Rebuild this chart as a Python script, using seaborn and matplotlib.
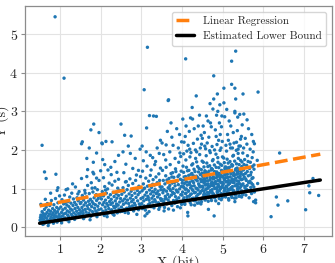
import matplotlib
matplotlib.use("Agg")
import matplotlib.pyplot as plt
import seaborn as sns
import pandas as pd

# points, grouped by x band
pts_a = [(0.51,0.18),(0.52,0.25),(0.53,0.31),(0.54,0.12),(0.55,0.22),(0.56,0.40),(0.57,0.15),(0.58,0.28),
         (0.59,0.35),(0.60,0.20),(0.61,0.09),(0.62,0.46),(0.63,0.27),(0.64,0.33),(0.65,0.14),(0.66,0.52),
         (0.67,0.23),(0.68,0.38),(0.69,0.61),(0.70,0.17),(0.71,0.29),(0.72,0.44),(0.73,0.11),(0.74,0.34),
         (0.75,0.56),(0.76,0.21),(0.77,0.41),(0.78,0.26),(0.79,0.69),(0.80,0.32),(0.81,0.16),(0.82,0.48),
         (0.83,0.37),(0.84,0.24),(0.85,0.58),(0.86,0.30),(0.87,0.43),(0.88,0.19),(0.89,0.74),(0.90,0.36),
         (0.91,0.27),(0.92,0.51),(0.93,0.13),(0.94,0.40),(0.95,0.63),(0.96,0.22),(0.97,0.47),(0.98,0.33),
         (0.99,0.81),(0.53,0.59),(0.58,0.07),(0.64,0.72),(0.71,0.04),(0.77,0.88),(0.84,0.10),(0.93,0.95),
         (0.97,0.28),(0.56,2.12),(0.62,1.43),(0.66,1.26),(0.90,1.37),(0.88,5.45),(1.10,3.86),(0.95,1.02)]

pts_b = [(1.01,0.26),(1.02,0.52),(1.03,0.17),(1.04,0.38),(1.05,0.71),(1.06,0.29),(1.07,0.45),(1.08,0.21),
         (1.09,0.60),(1.10,0.34),(1.11,0.83),(1.12,0.24),(1.13,0.49),(1.14,0.36),(1.15,0.97),(1.16,0.19),
         (1.17,0.57),(1.18,0.42),(1.19,0.31),(1.20,0.66),(1.21,0.27),(1.22,0.53),(1.23,0.39),(1.24,0.78),
         (1.25,0.22),(1.26,0.47),(1.27,0.62),(1.28,0.33),(1.29,0.88),(1.30,0.44),(1.31,0.28),(1.32,0.56),
         (1.33,0.73),(1.34,0.37),(1.35,0.25),(1.36,0.64),(1.37,0.48),(1.38,1.04),(1.39,0.32),(1.40,0.58),
         (1.41,0.41),(1.42,0.76),(1.43,0.26),(1.44,0.51),(1.45,0.68),(1.46,0.35),(1.47,0.92),(1.48,0.45),
         (1.49,0.30),(1.50,0.61),(1.04,0.11),(1.13,0.63),(1.22,0.14),(1.31,1.12),(1.36,0.20),(1.44,0.86),
         (1.19,0.99)]

pts_c = [(1.51,0.38),(1.52,0.64),(1.53,0.29),(1.54,0.51),(1.55,0.82),(1.56,0.43),(1.57,0.35),(1.58,0.70),
         (1.59,0.57),(1.60,0.26),(1.61,0.95),(1.62,0.46),(1.63,0.63),(1.64,0.39),(1.65,0.78),(1.66,0.31),
         (1.67,0.55),(1.68,1.08),(1.69,0.48),(1.70,0.67),(1.71,0.36),(1.72,0.87),(1.73,0.59),(1.74,0.44),
         (1.75,0.72),(1.76,0.28),(1.77,1.15),(1.78,0.53),(1.79,0.66),(1.80,0.40),(1.81,0.91),(1.82,0.61),
         (1.83,0.34),(1.84,0.76),(1.85,0.49),(1.86,1.02),(1.87,0.58),(1.88,0.42),(1.89,0.84),(1.90,0.69),
         (1.91,0.37),(1.92,0.97),(1.93,0.54),(1.94,0.74),(1.95,0.45),(1.96,1.21),(1.97,0.62),(1.98,0.33),
         (1.99,0.80),(1.58,0.22),(1.66,1.31),(1.74,0.19),(1.83,1.38),(1.91,0.27),(1.62,0.88),(1.79,1.01),
         (1.83,2.67),(1.76,2.52),(1.96,2.45),(1.55,2.21),(1.53,2.16),(1.72,2.05),(2.04,2.16),(1.90,1.92),
         (1.66,1.78),(1.82,1.68),(1.68,1.49),(1.81,1.42),(2.00,1.46),(1.53,1.26),(1.90,1.27)]

pts_d = [(2.01,0.47),(2.02,0.73),(2.03,0.36),(2.04,0.92),(2.05,0.58),(2.06,0.41),(2.07,0.81),(2.08,0.64),
         (2.09,0.30),(2.10,1.05),(2.11,0.52),(2.12,0.70),(2.13,0.44),(2.14,0.88),(2.15,0.61),(2.16,0.35),
         (2.17,0.99),(2.18,0.56),(2.19,0.77),(2.20,0.48),(2.21,1.14),(2.22,0.66),(2.23,0.39),(2.24,0.84),
         (2.25,0.59),(2.26,0.72),(2.27,0.45),(2.28,1.09),(2.29,0.63),(2.30,0.34),(2.31,0.90),(2.32,0.54),
         (2.33,0.79),(2.34,0.50),(2.35,1.19),(2.36,0.68),(2.37,0.42),(2.38,0.86),(2.39,0.60),(2.40,0.75),
         (2.41,0.37),(2.42,1.01),(2.43,0.57),(2.44,0.82),(2.45,0.47),(2.46,0.95),(2.47,0.65),(2.48,0.40),
         (2.49,0.74),(2.07,1.28),(2.16,0.27),(2.26,1.36),(2.33,0.31),(2.44,1.24),(2.12,0.96),(2.38,0.53),
         (2.03,2.18),(2.13,2.22),(2.28,2.21),(2.44,1.86),(2.50,2.67),(2.59,2.38),(2.10,1.62),(2.25,1.55),
         (2.35,1.70),(2.18,1.48),(2.40,1.42),(2.05,1.75)]

pts_e = [(2.51,0.52),(2.52,0.85),(2.53,0.41),(2.54,0.68),(2.55,1.02),(2.56,0.59),(2.57,0.46),(2.58,0.91),
         (2.59,0.73),(2.60,0.38),(2.61,1.17),(2.62,0.63),(2.63,0.80),(2.64,0.49),(2.65,0.97),(2.66,0.70),
         (2.67,0.44),(2.68,1.08),(2.69,0.61),(2.70,0.86),(2.71,0.53),(2.72,1.25),(2.73,0.75),(2.74,0.47),
         (2.75,0.93),(2.76,0.66),(2.77,0.82),(2.78,0.55),(2.79,1.13),(2.80,0.71),(2.81,0.42),(2.82,0.99),
         (2.83,0.62),(2.84,0.88),(2.85,0.57),(2.86,1.21),(2.87,0.77),(2.88,0.50),(2.89,0.33),(2.90,0.95),
         (2.91,0.68),(2.92,0.84),(2.93,0.45),(2.94,1.06),(2.95,0.60),(2.96,0.90),(2.97,0.54),(2.98,1.31),
         (2.99,0.74),(2.57,1.41),(2.68,0.36),(2.79,1.52),(2.88,1.35),(2.63,1.18),(2.93,1.47),
         (2.75,2.36),(2.73,1.91),(2.62,1.63),(2.85,1.78),(2.97,2.02),(2.55,1.95),(2.68,2.10)]

pts_f = [(3.01,0.61),(3.02,0.94),(3.03,0.48),(3.04,0.77),(3.05,1.12),(3.06,0.68),(3.07,0.55),(3.08,1.01),
         (3.09,0.83),(3.10,0.44),(3.11,1.27),(3.12,0.72),(3.13,0.90),(3.14,0.35),(3.15,1.06),(3.16,0.80),
         (3.17,0.58),(3.18,1.19),(3.19,0.70),(3.20,0.96),(3.21,0.62),(3.22,1.34),(3.23,0.86),(3.24,0.53),
         (3.25,1.03),(3.26,0.75),(3.27,0.92),(3.28,0.65),(3.29,1.23),(3.30,0.81),(3.31,0.50),(3.32,1.09),
         (3.33,0.71),(3.34,0.98),(3.35,0.66),(3.36,1.30),(3.37,0.87),(3.38,0.57),(3.39,1.15),(3.40,0.78),
         (3.41,0.93),(3.42,0.63),(3.43,1.38),(3.44,0.84),(3.45,0.52),(3.46,1.05),(3.47,0.74),(3.48,0.97),
         (3.49,0.69),(3.03,1.45),(3.09,0.29),(3.14,1.58),(3.19,0.40),(3.24,1.48),(3.28,1.11),(3.33,1.62),
         (3.38,0.88),(3.43,0.46),(3.47,1.53),(3.06,0.99),(3.17,0.76),(3.31,0.91),(3.45,1.21),
         (3.07,3.56),(3.15,4.66),(3.20,2.89),(3.30,2.88),(3.37,2.87),(3.13,2.57),(3.02,2.10),(3.22,1.86),
         (3.39,2.05),(3.05,1.72),(3.12,1.95),(3.28,1.80),(3.35,1.70),(3.44,1.91),(3.47,2.25)]

pts_g = [(3.50,0.72),(3.51,1.04),(3.52,0.58),(3.53,0.89),(3.54,1.21),(3.55,0.66),(3.56,0.97),(3.57,0.51),
         (3.58,1.12),(3.59,0.80),(3.60,1.33),(3.61,0.74),(3.62,0.93),(3.63,0.60),(3.64,1.17),(3.65,0.85),
         (3.66,1.02),(3.67,0.47),(3.68,1.26),(3.69,0.78),(3.70,1.08),(3.71,0.64),(3.72,0.95),(3.73,1.39),
         (3.74,0.83),(3.75,0.56),(3.76,1.14),(3.77,0.90),(3.78,1.00),(3.79,0.69),(3.80,1.29),(3.81,0.87),
         (3.82,0.62),(3.83,1.07),(3.84,0.79),(3.85,1.44),(3.86,0.96),(3.87,0.71),(3.88,1.19),(3.89,0.53),
         (3.90,0.91),(3.91,1.10),(3.92,0.76),(3.93,1.35),(3.94,0.99),(3.95,0.67),(3.96,1.24),(3.97,0.84),
         (3.98,1.05),(3.99,0.59),(3.52,1.47),(3.56,0.42),(3.61,1.55),(3.66,0.70),(3.71,1.62),(3.75,1.30),
         (3.79,0.44),(3.84,1.51),(3.88,0.92),(3.92,1.68),(3.96,0.50),(3.54,0.95),(3.63,1.22),(3.69,1.00),
         (3.77,1.41),(3.82,1.16),(3.90,1.31),(3.98,1.45),(3.58,0.73),(3.86,0.64),
         (3.66,3.28),(3.67,3.30),(3.75,2.33),(3.94,2.40),(3.51,2.18),(3.78,2.12),(3.61,2.13),(3.55,1.88),
         (3.70,1.95),(3.83,1.78),(3.91,2.05),(3.97,1.83),(3.60,1.74),(3.87,2.55),(3.73,2.70),(3.95,1.92),
         (3.64,2.48),(3.99,2.21)]

pts_h = [(4.00,0.83),(4.01,1.21),(4.02,0.67),(4.03,1.05),(4.04,1.42),(4.05,0.76),(4.06,1.13),(4.07,0.59),
         (4.08,0.98),(4.09,1.31),(4.10,0.88),(4.11,1.55),(4.12,0.71),(4.13,1.09),(4.14,0.38),(4.15,1.26),
         (4.16,0.93),(4.17,1.47),(4.18,0.80),(4.19,1.16),(4.20,0.64),(4.21,1.02),(4.22,1.37),(4.23,0.86),
         (4.24,1.61),(4.25,0.74),(4.26,1.19),(4.27,0.95),(4.28,1.33),(4.29,0.69),(4.30,1.07),(4.31,0.57),
         (4.32,1.44),(4.33,0.90),(4.34,1.23),(4.35,0.78),(4.36,1.69),(4.37,1.00),(4.38,0.62),(4.39,1.28),
         (4.40,0.85),(4.41,1.12),(4.42,1.52),(4.43,0.73),(4.44,1.04),(4.45,1.36),(4.46,0.92),(4.47,1.18),
         (4.48,0.66),(4.49,1.40),
         (4.005,1.14),(4.015,0.91),(4.025,1.58),(4.035,0.72),(4.045,1.03),(4.055,1.30),(4.065,0.61),
         (4.075,1.22),(4.085,0.87),(4.095,1.74),(4.105,0.99),(4.115,1.17),(4.125,0.79),(4.135,1.46),
         (4.145,0.29),(4.155,0.94),(4.165,1.34),(4.175,0.70),(4.185,1.11),(4.195,1.82),(4.205,0.84),
         (4.215,1.25),(4.225,0.58),(4.235,1.06),(4.245,1.39),(4.255,0.97),(4.265,1.64),(4.275,0.75),
         (4.285,1.15),(4.295,1.50),(4.305,0.89),(4.315,1.27),(4.325,0.68),(4.335,1.78),(4.345,1.01),
         (4.355,1.32),(4.365,0.81),(4.375,1.20),(4.385,1.57),(4.395,0.96),(4.405,1.43),(4.415,0.63),
         (4.425,1.08),(4.435,1.88),(4.445,0.88),(4.455,1.24),(4.465,0.60),(4.475,1.49),(4.485,1.05),
         (4.495,1.71),
         (4.09,4.36),(4.02,2.80),(4.26,2.80),(4.21,2.83),(4.08,2.35),(4.15,2.12),(4.30,2.55),(4.38,2.28),
         (4.45,2.05),(4.12,1.97),(4.33,2.00),(4.40,2.62),(4.05,2.20),(4.22,1.93),(4.47,2.38),(4.18,2.48),
         (4.36,1.95),(4.28,2.17),(4.43,2.90),(4.10,2.62),(4.25,3.10),(4.48,2.15),(4.35,3.40),(4.04,1.90),
         (4.19,2.02)]

pts_i = [(4.50,0.95),(4.51,1.32),(4.52,0.78),(4.53,1.17),(4.54,1.56),(4.55,0.87),(4.56,1.24),(4.57,0.70),
         (4.58,1.09),(4.59,1.43),(4.60,0.99),(4.61,1.66),(4.62,0.82),(4.63,1.20),(4.64,1.01),(4.65,0.46),
         (4.66,1.37),(4.67,1.05),(4.68,1.59),(4.69,0.91),(4.70,1.27),(4.71,0.75),(4.72,1.13),(4.73,1.48),
         (4.74,0.97),(4.75,1.72),(4.76,0.85),(4.77,1.30),(4.78,1.06),(4.79,0.29),(4.80,1.44),(4.81,0.80),
         (4.82,1.18),(4.83,0.68),(4.84,1.55),(4.85,1.02),(4.86,1.35),(4.87,0.89),(4.88,1.80),(4.89,1.11),
         (4.90,0.61),(4.91,1.39),(4.92,0.94),(4.93,1.23),(4.94,1.63),(4.95,0.84),(4.96,1.15),(4.97,1.47),
         (4.98,1.03),(4.99,0.77),
         (4.505,1.21),(4.515,1.03),(4.525,1.68),(4.535,0.84),(4.545,1.14),(4.555,1.41),(4.565,0.72),
         (4.575,1.33),(4.585,0.98),(4.595,1.85),(4.605,1.10),(4.615,1.28),(4.625,0.90),(4.635,1.57),
         (4.645,0.67),(4.655,1.05),(4.665,1.45),(4.675,0.81),(4.685,1.22),(4.695,1.93),(4.705,0.95),
         (4.715,1.36),(4.725,0.69),(4.735,1.17),(4.745,1.50),(4.755,1.08),(4.765,1.75),(4.775,0.86),
         (4.785,1.26),(4.795,1.61),(4.805,1.00),(4.815,1.38),(4.825,0.79),(4.835,1.89),(4.845,1.12),
         (4.855,1.43),(4.865,0.92),(4.875,1.31),(4.885,1.68),(4.895,1.07),(4.905,1.54),(4.915,0.74),
         (4.925,1.19),(4.935,1.99),(4.945,0.99),(4.955,1.35),(4.965,0.71),(4.975,1.60),(4.985,1.16),
         (4.995,1.82),
         (4.503,1.06),(4.523,1.29),(4.543,0.93),(4.563,1.46),(4.583,1.19),(4.603,0.83),(4.623,1.40),
         (4.643,1.12),(4.663,0.88),(4.683,1.34),(4.703,1.07),(4.723,1.52),(4.743,0.90),(4.763,1.25),
         (4.783,1.13),(4.803,0.76),(4.823,1.41),(4.843,1.28),(4.863,0.98),(4.883,1.21),(4.903,1.36),
         (4.923,1.04),(4.943,1.29),(4.963,0.87),(4.983,1.42),
         (4.78,3.92),(4.93,3.17),(4.76,3.06),(4.88,3.00),(4.85,2.90),(4.98,2.88),(4.78,3.32),(4.55,2.45),
         (4.62,2.18),(4.70,2.70),(4.58,2.03),(4.66,2.33),(4.74,2.09),(4.82,2.52),(4.90,2.25),(4.96,2.05),
         (4.52,2.62),(4.60,2.88),(4.68,1.98),(4.86,2.14),(4.94,2.40),(4.72,2.60),(4.80,2.00),(4.64,2.75),
         (4.92,2.70),(4.56,2.10),(4.84,2.35),(4.99,2.22),(4.50,2.30),(4.87,3.45),(4.69,3.20),(4.97,2.60)]

pts_j = [(5.00,1.08),(5.01,1.45),(5.02,0.86),(5.03,1.26),(5.04,1.67),(5.05,0.96),(5.06,1.35),(5.07,0.78),
         (5.08,1.17),(5.09,1.55),(5.10,1.04),(5.11,1.76),(5.12,0.89),(5.13,1.29),(5.14,1.10),(5.15,0.70),
         (5.16,1.48),(5.17,1.13),(5.18,1.70),(5.19,0.99),(5.20,1.38),(5.21,0.82),(5.22,1.21),(5.23,1.58),
         (5.24,1.05),(5.25,1.84),(5.26,0.92),(5.27,1.41),(5.28,1.15),(5.29,0.75),(5.30,0.66),(5.31,0.88),
         (5.32,1.27),(5.33,0.76),(5.34,1.64),(5.35,1.11),(5.36,1.44),(5.37,0.95),(5.38,1.91),(5.39,1.19),
         (5.40,0.80),(5.41,1.50),(5.42,1.01),(5.43,1.32),(5.44,1.73),(5.45,0.90),(5.46,1.23),(5.47,1.57),
         (5.48,1.09),(5.49,0.84),
         (5.005,1.31),(5.015,1.12),(5.025,1.79),(5.035,0.93),(5.045,1.22),(5.055,1.52),(5.065,0.80),
         (5.075,1.42),(5.085,1.06),(5.095,1.97),(5.105,1.18),(5.115,1.37),(5.125,0.98),(5.135,1.66),
         (5.145,0.74),(5.155,1.14),(5.165,1.55),(5.175,0.87),(5.185,1.30),(5.195,2.05),(5.205,1.02),
         (5.215,1.46),(5.225,0.77),(5.235,1.25),(5.245,1.60),(5.255,1.16),(5.265,1.86),(5.275,0.94),
         (5.285,1.34),(5.295,1.71),(5.305,1.07),(5.315,1.48),(5.325,0.85),(5.335,1.99),(5.345,1.20),
         (5.355,1.53),(5.365,1.00),(5.375,1.39),(5.385,1.78),(5.395,1.13),(5.405,1.62),(5.415,0.81),
         (5.425,1.27),(5.435,2.10),(5.445,1.05),(5.455,1.43),(5.465,0.78),(5.475,1.69),(5.485,1.24),
         (5.495,1.92),
         (5.003,1.15),(5.023,1.40),(5.043,1.01),(5.063,1.56),(5.083,1.28),(5.103,0.91),(5.123,1.50),
         (5.143,1.21),(5.163,0.96),(5.183,1.44),(5.203,1.17),(5.223,1.62),(5.243,0.97),(5.263,1.34),
         (5.283,1.22),(5.303,0.84),(5.323,1.51),(5.343,1.37),(5.363,1.06),(5.383,1.30),(5.403,1.46),
         (5.423,1.12),(5.443,1.38),(5.463,0.94),(5.483,1.52),
         (5.32,4.56),(5.22,4.30),(5.03,3.60),(5.30,3.60),(5.50,3.45),(5.32,3.32),(5.03,3.22),(5.30,3.00),
         (5.30,2.96),(5.37,2.85),(5.05,2.86),(5.12,2.40),(5.20,2.62),(5.28,2.18),(5.36,2.50),(5.44,2.28),
         (5.08,2.12),(5.16,2.75),(5.24,2.05),(5.40,2.10),(5.48,2.65),(5.14,2.25),(5.26,2.45),(5.34,2.20),
         (5.42,2.92),(5.10,3.05),(5.46,2.35),(5.18,2.15),(5.22,3.70),(5.38,2.02)]

pts_k = [(5.50,1.12),(5.51,1.48),(5.52,0.90),(5.53,1.30),(5.54,1.75),(5.55,1.01),(5.56,1.39),(5.57,0.83),
         (5.58,1.21),(5.59,1.60),(5.60,1.08),(5.61,1.85),(5.62,0.95),(5.63,1.33),(5.64,1.15),(5.65,0.76),
         (5.66,1.52),(5.67,1.19),(5.68,1.68),(5.69,1.03),(5.70,1.42),(5.71,0.87),(5.72,1.26),(5.73,1.57),
         (5.74,1.10),(5.75,1.95),(5.76,0.66),(5.77,1.50),(5.78,0.91),(5.81,0.70),
         (5.505,1.36),(5.525,1.62),(5.545,1.05),(5.565,1.25),(5.585,0.98),(5.605,1.44),(5.625,1.70),
         (5.645,1.17),(5.665,0.93),(5.685,1.35),(5.705,1.14),(5.725,1.80),(5.745,1.28),(5.765,1.04),
         (5.515,2.05),(5.555,2.30),(5.595,2.15),(5.635,2.55),(5.675,2.02),(5.715,2.40),(5.755,2.22),
         (5.52,2.93),(5.87,3.50),(5.60,2.78)]

pts_r = [(5.78,2.16),(5.85,1.73),(5.77,1.61),(5.86,1.13),(5.81,0.63),(6.32,0.78),(6.36,0.57),(6.60,0.68),
         (6.19,0.27),(7.04,0.45),(7.12,1.07),(7.14,0.89),(7.36,0.82),(7.36,1.21),(7.22,1.26),(6.40,1.92)]

# fitted lines (end points)
line_x = [0.5, 7.4]
reg_y = [0.55, 1.89]
low_y = [0.10, 1.22]

pts = pts_a + pts_b + pts_c + pts_d + pts_e + pts_f + pts_g + pts_h + pts_i + pts_j + pts_k + pts_r
df = pd.DataFrame(pts, columns=["x", "y"])

sns.set_style("whitegrid", {"axes.edgecolor": "#8c8c8c", "grid.color": "#e3e3e3",
                            "xtick.bottom": True, "ytick.left": True})
plt.rcParams["font.family"] = ["cmr10"]
plt.rcParams["mathtext.fontset"] = "cm"
plt.rcParams["axes.formatter.use_mathtext"] = True

fig = plt.figure(figsize=(3.35, 2.63), dpi=100)
ax = fig.add_axes([0.0746, 0.1027, 0.9155, 0.8745])

sns.scatterplot(data=df, x="x", y="y", s=6, color="#1f77b4", edgecolor="none", ax=ax, zorder=2)
sns.lineplot(x=line_x, y=reg_y, color="#ff7f0e", lw=2.5, linestyle="--", label="Linear Regression", ax=ax, zorder=3)
sns.lineplot(x=line_x, y=low_y, color="black", lw=2.5, label="Estimated Lower Bound", ax=ax, zorder=3)

ax.set_xlim(0.14, 7.68)
ax.set_ylim(-0.23, 5.73)
ax.set_xticks([1, 2, 3, 4, 5, 6, 7])
ax.set_yticks([0, 1, 2, 3, 4, 5])
ax.tick_params(labelsize=10, length=3, width=0.8, color="#8c8c8c", pad=2)
ax.set_xlabel("X (bit)", fontsize=10, labelpad=-1)
ax.set_ylabel("Y (s)", fontsize=10, labelpad=0)
for s in ax.spines.values():
    s.set_linewidth(0.9)

ax.legend(loc="upper right", fontsize=8, frameon=True, borderaxespad=0.5, handlelength=1.6)

fig.savefig("out.png", dpi=100)
